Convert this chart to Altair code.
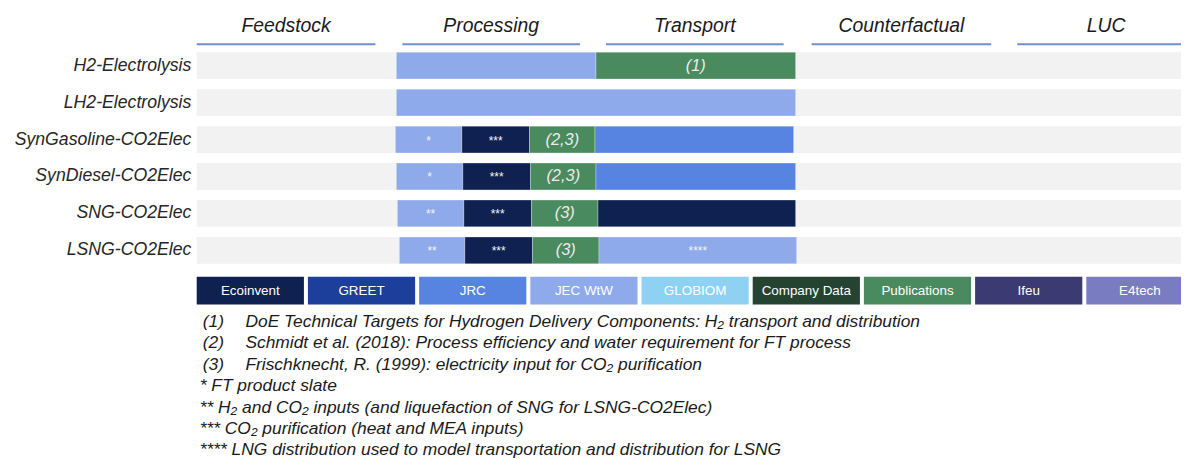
import altair as alt
import pandas as pd

# ---------------- data ----------------
pathways = ["H2-Electrolysis", "LH2-Electrolysis", "SynGasoline-CO2Elec",
            "SynDiesel-CO2Elec", "SNG-CO2Elec", "LSNG-CO2Elec"]

stages = ["Feedstock", "Processing", "Transport", "Counterfactual", "LUC"]
stage_start = [0.0, 1.03, 2.05, 3.08, 4.11]
stage_end = [0.895, 1.92, 2.94, 3.98, 5.0]

sources = ["Ecoinvent", "GREET", "JRC", "JEC WtW", "GLOBIOM",
           "Company Data", "Publications", "Ifeu", "E4tech"]
source_colors = ["#0f2150", "#1b3f9a", "#5784e0", "#8eaaea", "#8fd1f3",
                 "#244330", "#4a8a5f", "#3b3a72", "#7a7cc2"]

seg_row = [0, 0,
           1,
           2, 2, 2, 2,
           3, 3, 3, 3,
           4, 4, 4, 4,
           5, 5, 5, 5]
seg_start = [1.0, 2.0,
             1.0,
             0.995, 1.328, 1.667, 1.995,
             1.0, 1.333, 1.672, 2.0,
             1.005, 1.338, 1.677, 2.01,
             1.015, 1.343, 1.682, 2.015]
seg_end = [2.0, 3.0,
           3.0,
           1.328, 1.667, 1.995, 2.99,
           1.333, 1.672, 2.0, 3.0,
           1.338, 1.677, 2.01, 3.0,
           1.343, 1.682, 2.015, 3.005]
seg_source = ["JEC WtW", "Publications",
              "JEC WtW",
              "JEC WtW", "Ecoinvent", "Publications", "JRC",
              "JEC WtW", "Ecoinvent", "Publications", "JRC",
              "JEC WtW", "Ecoinvent", "Publications", "Ecoinvent",
              "JEC WtW", "Ecoinvent", "Publications", "JEC WtW"]
seg_note = ["", "(1)",
            "",
            "*", "***", "(2,3)", "",
            "*", "***", "(2,3)", "",
            "**", "***", "(3)", "",
            "**", "***", "(3)", "****"]

foot_tag = ["(1)", "(2)", "(3)", "", "", "", ""]
foot_text = [
    "DoE Technical Targets for Hydrogen Delivery Components: H\u2082 transport and distribution",
    "Schmidt et al. (2018): Process efficiency and water requirement for FT process",
    "Frischknecht, R. (1999): electricity input for CO\u2082 purification",
    "* FT product slate",
    "** H\u2082 and CO\u2082 inputs (and liquefaction of SNG for LSNG-CO2Elec)",
    "*** CO\u2082 purification (heat and MEA inputs)",
    "**** LNG distribution used to model transportation and distribution for LSNG",
]

# ---------------- layout (not data) ----------------
HALF = 0.363          # half bar height in row units
HEADER_Y = -1.065
HEADER_LINE_Y = -0.578
LEG_Y0, LEG_Y1 = 5.712, 6.465
LEG_STEP, LEG_W = 0.557, 0.537
FOOT_Y0, FOOT_STEP = 6.94, 0.579
FONT = "Liberation Sans"

xs = alt.Scale(domain=[0, 5], range=[190, 1195])
ys = alt.Scale(domain=[0, 5], range=[56.5, 242.5])


def X(f):
    return alt.X(f, type="quantitative", scale=xs, axis=None)


def Y(f):
    return alt.Y(f, type="quantitative", scale=ys, axis=None)


color = alt.Color("source:N", scale=alt.Scale(domain=sources, range=source_colors), legend=None)

rows_df = pd.DataFrame({"pathway": pathways, "r": range(len(pathways))})
rows_df["y0"] = rows_df["r"] - HALF
rows_df["y1"] = rows_df["r"] + HALF
rows_df["x0"] = 0.0
rows_df["x1"] = 5.0
rows_df["lx"] = -0.027

seg_df = pd.DataFrame({"r": seg_row, "x0": seg_start, "x1": seg_end,
                       "source": seg_source, "note": seg_note})
seg_df["y0"] = seg_df["r"] - HALF
seg_df["y1"] = seg_df["r"] + HALF
seg_df["xm"] = (seg_df["x0"] + seg_df["x1"]) / 2

stage_df = pd.DataFrame({"stage": stages, "x0": stage_start, "x1": stage_end})
stage_df["xm"] = (stage_df["x0"] + stage_df["x1"]) / 2
stage_df["yt"] = HEADER_Y
stage_df["yl"] = HEADER_LINE_Y

leg_df = pd.DataFrame({"source": sources})
leg_df["x0"] = [i * LEG_STEP for i in range(len(sources))]
leg_df["x1"] = leg_df["x0"] + LEG_W
leg_df["xm"] = (leg_df["x0"] + leg_df["x1"]) / 2
leg_df["y0"] = LEG_Y0
leg_df["y1"] = LEG_Y1
leg_df["ym"] = (LEG_Y0 + LEG_Y1) / 2

foot_df = pd.DataFrame({"tag": foot_tag, "text": foot_text})
foot_df["y"] = [FOOT_Y0 + i * FOOT_STEP for i in range(len(foot_text))]
foot_df["xt"] = [0.244 if t else 0.015 for t in foot_tag]
foot_df["xg"] = 0.03

bg = alt.Chart(rows_df).mark_rect(color="#f2f2f2").encode(
    x=X("x0"), x2="x1", y=Y("y0"), y2="y1")

labels = alt.Chart(rows_df).mark_text(
    align="right", baseline="middle", font=FONT, fontSize=17.8,
    fontStyle="italic", color="#262626").encode(
    x=X("lx"), y=Y("r"), text="pathway:N")

bars = alt.Chart(seg_df).mark_rect(stroke="#ffffff", strokeWidth=0.6, strokeOpacity=0.5).encode(
    x=X("x0"), x2="x1", y=Y("y0"), y2="y1", color=color)

notes = alt.Chart(seg_df).transform_filter(
    "indexof(datum.note, '(') == 0").mark_text(
    align="center", baseline="middle", font=FONT, fontSize=16.5,
    fontStyle="italic", color="#ececec").encode(
    x=X("xm"), y=Y("r"), text="note:N")

stars = alt.Chart(seg_df).transform_filter(
    "indexof(datum.note, '*') == 0").mark_text(
    align="center", baseline="middle", font=FONT, fontSize=12,
    color="#f4f4f4", dy=1).encode(
    x=X("xm"), y=Y("r"), text="note:N")

head_text = alt.Chart(stage_df).mark_text(
    align="center", baseline="middle", font=FONT, fontSize=19.5,
    fontStyle="italic", color="#1a1a1a").encode(
    x=X("xm"), y=Y("yt"), text="stage:N")

head_line = alt.Chart(stage_df).mark_rule(color="#6e8fd4", strokeWidth=2).encode(
    x=X("x0"), x2="x1", y=Y("yl"))

leg_box = alt.Chart(leg_df).mark_rect().encode(
    x=X("x0"), x2="x1", y=Y("y0"), y2="y1", color=color)

leg_text = alt.Chart(leg_df).mark_text(
    align="center", baseline="middle", font=FONT, fontSize=13.5,
    color="#ffffff").encode(
    x=X("xm"), y=Y("ym"), text="source:N")

foot_tags = alt.Chart(foot_df).transform_filter("datum.tag != ''").mark_text(
    align="left", baseline="middle", font=FONT, fontSize=17.5,
    fontStyle="italic", color="#1a1a1a").encode(
    x=X("xg"), y=Y("y"), text="tag:N")

foot_texts = alt.Chart(foot_df).mark_text(
    align="left", baseline="middle", font=FONT, fontSize=17.5,
    fontStyle="italic", color="#1a1a1a").encode(
    x=X("xt"), y=Y("y"), text="text:N")

chart = alt.layer(
    bg, labels, bars, notes, stars, head_text, head_line,
    leg_box, leg_text, foot_tags, foot_texts
).properties(
    width=1181, height=451,
    autosize=alt.AutoSizeParams(type="none"),
    padding=0,
).configure_view(stroke=None)

chart.save("out.html", embed_options={"renderer": "svg", "actions": False})
